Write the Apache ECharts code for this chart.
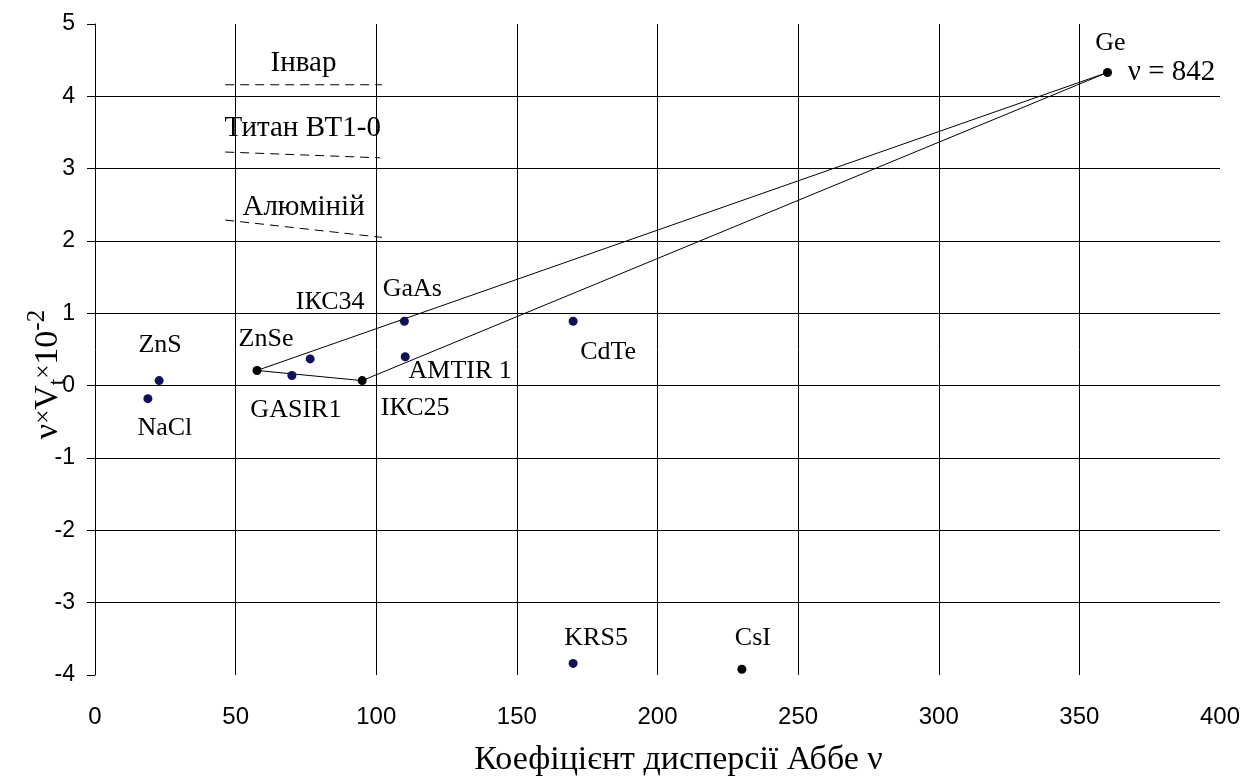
<!DOCTYPE html>
<html>
<head>
<meta charset="utf-8">
<script src="https://cdn.jsdelivr.net/npm/echarts@6/dist/echarts.min.js"></script>
<style>html,body{margin:0;padding:0;background:#fff}#c{width:1257px;height:778px}</style>
</head>
<body>
<div id="c"></div>
<script>
// ---- data ----
const materials = ['NaCl', 'ZnS', 'ZnSe', 'GASIR1', 'ІКС34', 'ІКС25', 'GaAs', 'AMTIR 1', 'CdTe', 'KRS5', 'CsI', 'Ge'];
const abbe      = [18.8, 22.8, 57.6, 70, 76.5, 95, 110, 110.3, 170, 170, 230, 360];
const product   = [-0.18, 0.07, 0.21, 0.14, 0.37, 0.07, 0.89, 0.40, 0.89, -3.84, -3.92, 4.33];
const blackPoints = ['ZnSe', 'ІКС25', 'Ge', 'CsI'];
const hullOrder = ['ZnSe', 'ІКС25', 'Ge', 'ZnSe'];
const noteTargets = ['Ge'];
const noteTexts = ['ν = 842'];
const refNames = ['Інвар', 'Титан ВТ1-0', 'Алюміній'];
const refX = [[46.3, 102], [46.3, 101.4], [46.3, 102]];
const refY = [[4.16, 4.16], [3.23, 3.15], [2.29, 2.05]];
const xTicks = [0, 50, 100, 150, 200, 250, 300, 350, 400];
const yTicks = [-4, -3, -2, -1, 0, 1, 2, 3, 4, 5];

// ---- styles (label offsets in px relative to the point) ----
const labelOffsets = {
  'NaCl': [17, 29], 'ZnS': [1, -35], 'ZnSe': [9, -31], 'GASIR1': [4, 35],
  'ІКС34': [20, -57], 'ІКС25': [53, 28], 'GaAs': [8, -32], 'AMTIR 1': [55, 14],
  'CdTe': [35, 31], 'KRS5': [23, -25], 'CsI': [11, -31], 'Ge': [3, -29]
};
const noteOffsets = { 'Ge': [64, 0] };
const refLabelOffsets = [[0, -21], [0, -27], [0, -21]];
const serif = 'Liberation Serif';
const sans = 'Liberation Sans';

const idx = n => materials.indexOf(n);

const pointData = materials.map((m, i) => ({
  value: [abbe[i], product[i]],
  name: m,
  itemStyle: { color: blackPoints.includes(m) ? '#000000' : '#10105a', opacity: 1 },
  label: { offset: labelOffsets[m] }
}));

const hullData = hullOrder.map(n => [abbe[idx(n)], product[idx(n)]]);

const noteData = noteTargets.map((n, k) => ({
  value: [abbe[idx(n)], product[idx(n)]],
  name: noteTexts[k],
  label: { offset: noteOffsets[n] }
}));

const refSeries = refNames.map((nm, k) => ({
  type: 'line',
  data: refX[k].map((x, j) => [x, refY[k][j]]),
  symbol: 'none',
  lineStyle: { color: '#000', width: 1, type: [9, 6] },
  silent: true, z: 3
}));

const refLabelData = refNames.map((nm, k) => ({
  value: [(refX[k][0] + refX[k][1]) / 2, (refY[k][0] + refY[k][1]) / 2],
  name: nm,
  label: { offset: refLabelOffsets[k] }
}));

const labelStyle = (size) => ({
  show: true, position: 'inside', formatter: p => p.name,
  color: '#000', opacity: 1, fontFamily: serif, fontSize: size, align: 'center', verticalAlign: 'middle'
});

const chart = echarts.init(document.getElementById('c'), null, { renderer: 'canvas' });
chart.setOption({
  animation: false,
  backgroundColor: '#ffffff',
  grid: { left: 95, right: 37, top: 24, bottom: 103, containLabel: false, outerBoundsMode: 'none' },
  xAxis: {
    type: 'value', min: xTicks[0], max: xTicks[xTicks.length - 1], interval: 50,
    axisLine: { show: false }, axisTick: { show: false },
    axisLabel: { color: '#000', fontFamily: sans, fontSize: 24, margin: 30 },
    splitLine: { show: true, showMinLine: false, showMaxLine: false, lineStyle: { color: '#000', width: 1 } },
    name: 'Коефіцієнт дисперсії Аббе ν', nameLocation: 'middle', nameGap: 68, nameMoveOverlap: false,
    nameTextStyle: { color: '#000', fontFamily: serif, fontSize: 34, padding: [0, 0, 0, 42] }
  },
  yAxis: {
    type: 'value', min: yTicks[0], max: yTicks[yTicks.length - 1], interval: 1,
    axisLine: { show: true, onZero: false, lineStyle: { color: '#000', width: 1 } },
    axisTick: { show: true, length: 8, lineStyle: { color: '#000' } },
    axisLabel: { color: '#000', fontFamily: sans, fontSize: 23, margin: 20 },
    splitLine: { show: true, showMinLine: false, showMaxLine: false, lineStyle: { color: '#000', width: 1 } },
    name: '{m|ν}{x|×}{m|V}{s|t}{x|×}{m|10}{p|-2}', nameLocation: 'middle', nameGap: 24, nameRotate: 90,
    nameMoveOverlap: false,
    nameTextStyle: {
      color: '#000', fontFamily: serif, padding: [0, 50, 0, 0],
      rich: {
        m: { fontSize: 34, fontFamily: serif, color: '#000', lineHeight: 46, verticalAlign: 'middle' },
        x: { fontSize: 25, fontFamily: serif, color: '#000', lineHeight: 46, verticalAlign: 'middle', padding: [0, 0, 8, 0] },
        s: { fontSize: 23, fontFamily: serif, color: '#000', lineHeight: 46, verticalAlign: 'bottom', padding: [0, 0, 2, 0] },
        p: { fontSize: 25, fontFamily: serif, color: '#000', lineHeight: 46, verticalAlign: 'top', padding: [0, 0, 0, 0] }
      }
    }
  },
  series: [
    {
      type: 'line', data: hullData, symbol: 'none',
      lineStyle: { color: '#000', width: 1 }, silent: true, z: 2
    },
    ...refSeries,
    {
      type: 'scatter', data: pointData, symbol: 'circle', symbolSize: 9, z: 5,
      itemStyle: { opacity: 1 },
      label: labelStyle(26)
    },
    {
      type: 'scatter', data: noteData, symbolSize: 0, z: 5,
      itemStyle: { opacity: 1 },
      label: labelStyle(29)
    },
    {
      type: 'scatter', data: refLabelData, symbolSize: 0, z: 5,
      itemStyle: { opacity: 1 },
      label: labelStyle(29)
    }
  ]
});
</script>
</body>
</html>
